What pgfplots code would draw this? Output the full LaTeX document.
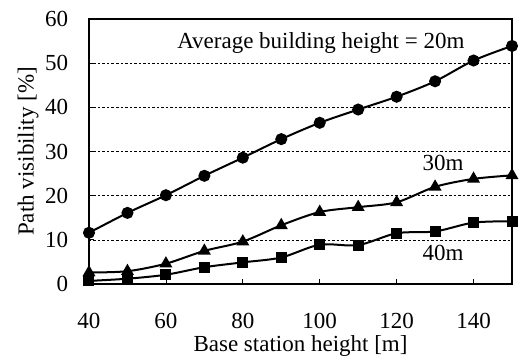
\documentclass[border=0pt]{standalone}
\usepackage{fontspec}
\setmainfont{Liberation Serif}
\usepackage{pgfplots}
\pgfplotsset{compat=1.18}
\newcommand\bigf{\fontsize{23}{26}\selectfont}
\begin{document}
\begin{tikzpicture}[x=1pt,y=1pt]
\bigf
\path[use as bounding box] (-89,-74) rectangle (430,284);
\begin{axis}[
 at={(0,0)}, anchor=south west,
 scale only axis, width=423pt, height=265pt,
 xmin=40, xmax=150, ymin=0, ymax=60,
 xtick={40,60,...,140}, ytick={0,10,...,60},
 tick pos=left, tick align=inside,
 major tick length=5pt,
 tick style={black, line width=0.8pt},
 ymajorgrids, grid style={line width=0.5pt, black, dash pattern=on 2.5pt off 2pt},
 axis line style={line width=1.2pt},
 /pgf/number format/assume math mode=true,
 tick label style={font=\bigf},
 xticklabel style={yshift=-21pt},
 yticklabel style={xshift=-13pt},
 xlabel={Base station height [m]},
 ylabel={Path visibility [\%]},
 label style={font=\bigf},
 xlabel style={at={(axis description cs:0.5,-0.253)}, anchor=base},
 ylabel style={at={(axis description cs:-0.144,0.5)}, anchor=center},
 clip=false,
 every axis plot/.append style={black, line width=2pt, smooth, tension=0.5},
]
\addplot[mark=*, mark size=5pt] coordinates {
(40,11.6) (50,16.1) (60,20.1) (70,24.5) (80,28.6) (90,32.8) (100,36.5) (110,39.5) (120,42.4) (130,45.9) (140,50.6) (150,53.9)};
\addplot[mark=triangle*, mark size=5.5pt] coordinates {
(40,2.6) (50,2.9) (60,4.6) (70,7.5) (80,9.6) (90,13.3) (100,16.3) (110,17.4) (120,18.5) (130,22.0) (140,23.8) (150,24.6)};
\addplot[mark=square*, mark size=4.5pt] coordinates {
(40,0.7) (50,1.2) (60,2.1) (70,3.8) (80,4.9) (90,6.0) (100,8.9) (110,8.8) (120,11.5) (130,11.9) (140,13.9) (150,14.2)};
\node[font=\bigf] at (axis cs:100.3,54.6) {Average building height = 20m};
\node[font=\bigf] at (axis cs:132.1,27.4) {30m};
\node[font=\bigf] at (axis cs:132.1,7.0) {40m};
\end{axis}
\end{tikzpicture}
\end{document}
